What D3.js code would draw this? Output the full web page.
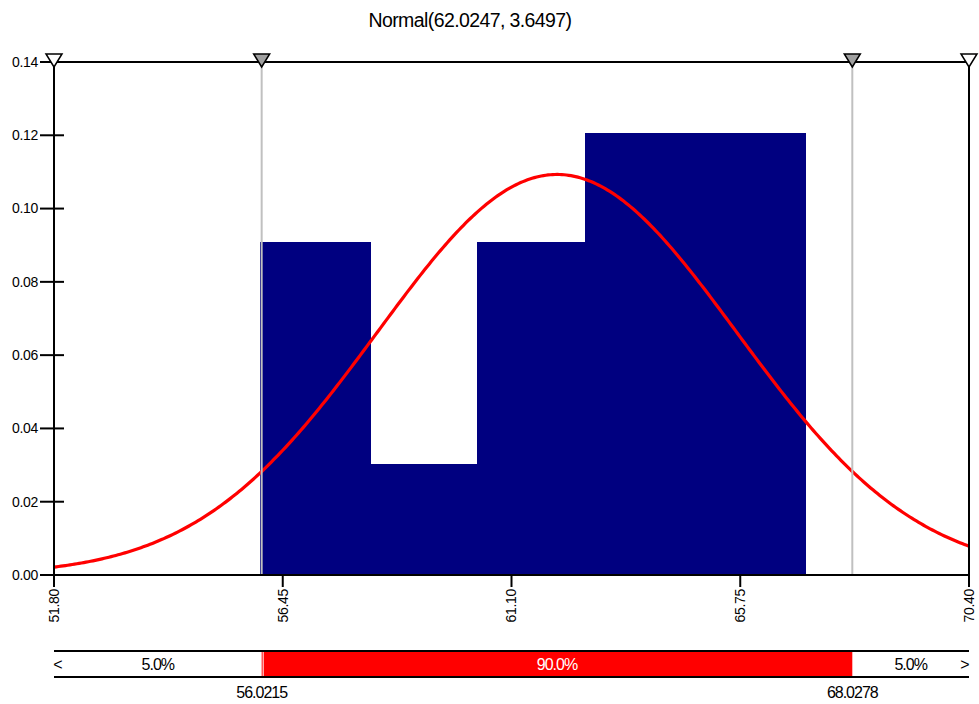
<!DOCTYPE html>
<html>
<head>
<meta charset="utf-8">
<script src="https://cdn.jsdelivr.net/npm/d3@7"></script>
<style>
  html, body { margin: 0; padding: 0; background: #fff; }
  svg { display: block; font-family: "Liberation Sans", Arial, sans-serif; }
  .tick-label { font-size: 14px; letter-spacing: -0.3px; }
</style>
</head>
<body>
<svg id="chart" width="979" height="704"></svg>
<script>
// fitted distribution (from the title)
const FIT_MEAN = 62.0247;
const FIT_SD = 3.6497;

// histogram bins (edges in data units) and densities
const binEdges = [55.98, 58.24, 60.40, 62.59, 64.83, 67.07];
const binDensity = [0.0909, 0.0303, 0.0909, 0.1206, 0.1206];

// axis ticks
const xTicks = [51.80, 56.45, 61.10, 65.75, 70.40];
const yTicks = [0.00, 0.02, 0.04, 0.06, 0.08, 0.10, 0.12, 0.14];

// delimiters and probabilities of the bottom band
const leftDelim = 56.0215;
const rightDelim = 68.0278;
const bandPct = ["5.0%", "90.0%", "5.0%"];

const svg = d3.select("#chart");
const x = d3.scaleLinear().domain([51.8, 70.4]).range([54, 969]);
const y = d3.scaleLinear().domain([0, 0.14]).range([575, 62]);

// title
svg.append("text")
  .attr("x", 470).attr("y", 27)
  .attr("text-anchor", "middle")
  .style("font-size", "19.5px")
  .style("letter-spacing", "-0.6px")
  .text(`Normal(${FIT_MEAN}, ${FIT_SD})`);

// histogram bars
svg.append("g")
  .attr("shape-rendering", "crispEdges")
  .selectAll("rect")
  .data(binDensity)
  .join("rect")
  .attr("x", (d, i) => x(binEdges[i]))
  .attr("width", (d, i) => x(binEdges[i + 1]) - x(binEdges[i]) + 0.5)
  .attr("y", (d) => y(d))
  .attr("height", (d) => y(0) - y(d))
  .attr("fill", "#000080");

// fitted normal density, sampled across the axis range
const pdf = (v) => Math.exp(-0.5 * ((v - FIT_MEAN) / FIT_SD) ** 2) / (FIT_SD * Math.sqrt(2 * Math.PI));
const curvePts = d3.range(0, 401).map((i) => {
  const v = 51.8 + (i / 400) * (70.4 - 51.8);
  return [v, pdf(v)];
});
svg.append("path")
  .datum(curvePts)
  .attr("fill", "none")
  .attr("stroke", "#ff0000")
  .attr("stroke-width", 3.2)
  .attr("d", d3.line().x((d) => x(d[0])).y((d) => y(d[1])));

// delimiter lines
[leftDelim, rightDelim].forEach((v) => {
  svg.append("line")
    .attr("x1", x(v)).attr("x2", x(v))
    .attr("y1", y(0.14)).attr("y2", y(0))
    .attr("stroke", "#c0c0c0").attr("stroke-width", 2);
});

// frame
svg.append("rect")
  .attr("x", x(51.8)).attr("y", y(0.14))
  .attr("width", x(70.4) - x(51.8)).attr("height", y(0) - y(0.14))
  .attr("fill", "none").attr("stroke", "#000").attr("stroke-width", 2);

// y axis: ticks crossing the frame
const yAxis = svg.append("g");
yTicks.forEach((t) => {
  yAxis.append("line")
    .attr("x1", 40).attr("x2", 64)
    .attr("y1", y(t)).attr("y2", y(t))
    .attr("stroke", "#000").attr("stroke-width", 2);
  yAxis.append("text")
    .attr("class", "tick-label")
    .attr("x", 38).attr("y", y(t)).attr("dy", "0.35em")
    .attr("text-anchor", "end")
    .text(d3.format(".2f")(t));
});

// x axis: ticks below, rotated labels
const xAxis = svg.append("g");
xTicks.forEach((t) => {
  xAxis.append("line")
    .attr("x1", x(t)).attr("x2", x(t))
    .attr("y1", y(0)).attr("y2", y(0) + 12)
    .attr("stroke", "#000").attr("stroke-width", 2);
  xAxis.append("text")
    .attr("class", "tick-label")
    .attr("transform", `translate(${x(t)},589) rotate(-90)`)
    .attr("dy", "0.35em")
    .attr("text-anchor", "end")
    .text(d3.format(".2f")(t));
});

// delimiter triangles on the top edge
const tri = (cx, fill) => {
  svg.append("path")
    .attr("d", `M${cx - 8},54 L${cx + 8},54 L${cx},67 Z`)
    .attr("fill", fill).attr("stroke", "#000").attr("stroke-width", 1.5);
};
tri(x(51.8), "#fff");
tri(x(leftDelim), "#a0a0a0");
tri(x(rightDelim), "#a0a0a0");
tri(x(70.4), "#fff");

// bottom probability band
const bandTop = 651, bandBot = 677;
svg.append("rect")
  .attr("x", x(leftDelim)).attr("y", bandTop + 1)
  .attr("width", x(rightDelim) - x(leftDelim)).attr("height", bandBot - bandTop - 2)
  .attr("fill", "#ff0000");
svg.append("line")
  .attr("x1", x(leftDelim) + 1.5).attr("x2", x(leftDelim) + 1.5)
  .attr("y1", bandTop + 1).attr("y2", bandBot - 1)
  .attr("stroke", "#fff").attr("stroke-width", 1);
[bandTop, bandBot].forEach((yy) => {
  svg.append("line")
    .attr("x1", x(51.8)).attr("x2", x(70.4))
    .attr("y1", yy).attr("y2", yy)
    .attr("stroke", "#000").attr("stroke-width", 2);
});

const sections = [[51.8, leftDelim], [leftDelim, rightDelim], [rightDelim, 70.4]];
sections.forEach((s, i) => {
  svg.append("text")
    .attr("x", (x(s[0]) + x(s[1])) / 2).attr("y", (bandTop + bandBot) / 2).attr("dy", "0.35em")
    .attr("text-anchor", "middle")
    .style("font-size", "16px").style("letter-spacing", "-1px")
    .attr("fill", i === 1 ? "#fff" : "#000")
    .text(bandPct[i]);
});
svg.append("text")
  .attr("x", 58).attr("y", (bandTop + bandBot) / 2).attr("dy", "0.35em")
  .attr("text-anchor", "middle").style("font-size", "16px").text("<");
svg.append("text")
  .attr("x", 965).attr("y", (bandTop + bandBot) / 2).attr("dy", "0.35em")
  .attr("text-anchor", "middle").style("font-size", "16px").text(">");

[leftDelim, rightDelim].forEach((v) => {
  svg.append("text")
    .attr("x", x(v)).attr("y", 692).attr("dy", "0.35em")
    .attr("text-anchor", "middle")
    .style("font-size", "16px").style("letter-spacing", "-1px")
    .text(d3.format(".4f")(v));
});
</script>
</body>
</html>
